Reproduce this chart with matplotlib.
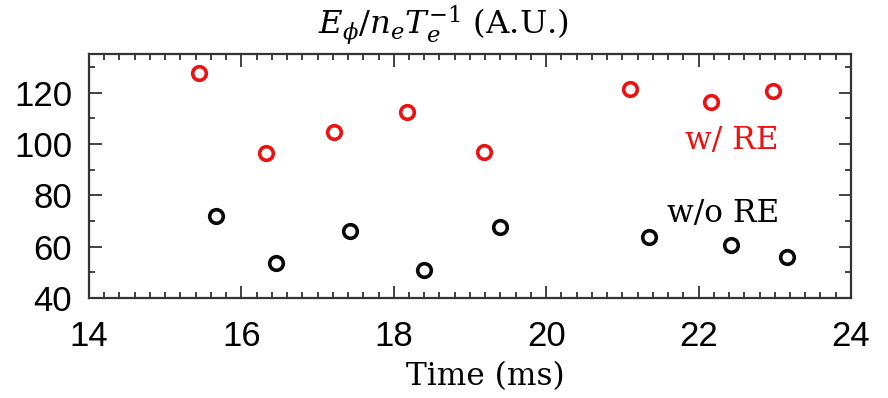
import matplotlib
matplotlib.use("Agg")
import matplotlib.pyplot as plt
from matplotlib.ticker import MultipleLocator

plt.rcParams['mathtext.fontset'] = 'dejavuserif'

time_re = [15.45, 16.32, 17.21, 18.17, 19.18, 21.10, 22.16, 22.98]
val_re = [127.6, 96.6, 104.8, 112.5, 96.9, 121.4, 116.4, 120.6]
time_nore = [15.67, 16.45, 17.43, 18.40, 19.39, 21.35, 22.42, 23.16]
val_nore = [72.0, 53.5, 66.2, 50.9, 67.7, 63.7, 60.8, 56.1]
xticks = [14, 16, 18, 20, 22, 24]
yticks = [40, 60, 80, 100, 120]

fig = plt.figure(figsize=(8.88, 3.98), dpi=100)
ax = fig.add_axes([0.1002, 0.2513, 0.8581, 0.6130])

ax.plot(time_re, val_re, 'o', ms=9.8, mfc='none', mec='#ee1111', mew=2.6)
ax.plot(time_nore, val_nore, 'o', ms=9.8, mfc='none', mec='#0a0a0a', mew=2.6)

ax.set_xlim(14, 24)
ax.set_ylim(40, 135)
ax.set_xticks(xticks)
ax.set_yticks(yticks)
ax.xaxis.set_minor_locator(MultipleLocator(0.2))
ax.yaxis.set_minor_locator(MultipleLocator(10))
ax.tick_params(which='both', direction='in', top=True, right=True, color='#333333', width=1.3)
ax.tick_params(which='major', length=9)
ax.tick_params(which='minor', length=4.5)
ax.tick_params(axis='both', which='major', labelsize=25)
ax.tick_params(axis='x', which='major', pad=16)
ax.tick_params(axis='y', which='major', pad=12)
for lab in ax.get_xticklabels() + ax.get_yticklabels():
    lab.set_family(['Liberation Sans Narrow', 'Liberation Sans'])
for s in ax.spines.values():
    s.set_linewidth(1.6)
    s.set_color('#333333')

ax.text(23.055, 98.0, 'w/ RE', color='#ee1111', fontsize=22.5, family='DejaVu Serif',
        ha='right', va='baseline')
ax.text(23.055, 69.7, 'w/o RE', color='black', fontsize=22.5, family='DejaVu Serif',
        ha='right', va='baseline')

fig.text(0.4995, 0.912, r'$E_{\phi}/n_eT_e^{-1}$ (A.U.)', fontsize=23.3,
         family='DejaVu Serif', ha='center', va='baseline')
fig.text(0.5467, 0.0327, 'Time (ms)', fontsize=22.5, family='DejaVu Serif',
         ha='center', va='baseline')

fig.savefig('out.png', dpi=100)
